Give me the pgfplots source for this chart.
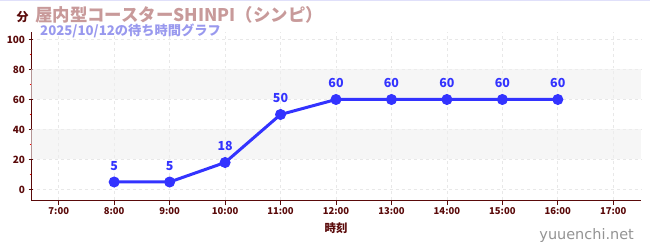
\documentclass[border=0pt]{standalone}
\usepackage{pgfplots}
\pgfplotsset{compat=1.18}
\usepackage{fontspec}
\setmainfont{Noto Sans CJK JP}
\newfontfamily\wm{DejaVu Sans}
\definecolor{axred}{HTML}{5A0A0A}
\definecolor{titlec}{HTML}{C89A9A}
\definecolor{subc}{HTML}{9999EE}
\definecolor{lineb}{HTML}{3333FF}
\definecolor{bandc}{HTML}{F0F0F0}
\definecolor{gridc}{HTML}{E8E8E8}
\begin{document}
\begin{tikzpicture}
\path[use as bounding box] (0,0) rectangle (650bp,250bp);
\draw[color=subc!30, line width=1bp] (0,249.5bp) -- (650bp,249.5bp);
\begin{axis}[
  at={(31bp,50bp)}, anchor=south west,
  scale only axis, width=610bp, height=168bp,
  xmin=6.5, xmax=17.5, ymin=-7, ymax=105,
  axis x line*=bottom, axis y line*=left,
  axis line style={color=axred, line width=1bp, -},
  xtick={7,...,17},
  xticklabels={7:00,8:00,9:00,10:00,11:00,12:00,13:00,14:00,15:00,16:00,17:00},
  ytick={0,20,40,60,80,100},
  minor ytick={10,30,50,70,90},
  tick style={color=axred, line width=0.8bp},
  major tick length=5bp, minor tick length=3bp,
  minor tick style={color=red, line width=0.8bp},
  xtick align=outside, ytick align=center,
  /pgf/number format/assume math mode=true,
  x tick label style={font=\fontsize{9.5}{10}\selectfont\bfseries, color=axred, yshift=1bp},
  y tick label style={font=\fontsize{10}{11}\selectfont\bfseries, color=axred},
  grid=major,
  major grid style={dashed, color=gridc, line width=0.7bp},
  xlabel={\fontsize{11.5}{12}\selectfont\bfseries 時刻},
  xlabel style={color=axred, yshift=-1bp},
  clip=false,
]
\addplot[fill=bandc, fill opacity=0.6, draw=none, forget plot] coordinates {(6.5,20) (17.5,20) (17.5,40) (6.5,40)} -- cycle;
\addplot[fill=bandc, fill opacity=0.6, draw=none, forget plot] coordinates {(6.5,60) (17.5,60) (17.5,80) (6.5,80)} -- cycle;
\addplot[color=lineb, line width=3bp, mark=*, mark size=5bp, mark options={fill=lineb, draw=lineb, line width=1bp, solid},
  nodes near coords={\pgfmathprintnumber[assume math mode=true]{\pgfplotspointmeta}},
  every node near coord/.append style={font=\fontsize{12.5}{13}\selectfont\bfseries, color=lineb, yshift=8bp}] coordinates {
(8,5) (9,5) (10,18) (11,50) (12,60) (13,60) (14,60) (15,60) (16,60)
};
\end{axis}
\node[anchor=base west, font=\fontsize{12}{13}\selectfont\bfseries, color=axred] at (13bp,228bp) {分};
\node[anchor=base west, font=\fontsize{17.5}{18}\selectfont\bfseries, color=titlec, inner sep=0pt] at (35bp,228bp) {屋内型コースターSHINPI（シンピ）};
\node[anchor=base west, font=\fontsize{13.3}{14}\selectfont\bfseries, color=subc, inner sep=0pt] at (40bp,214bp) {2025/10/12の待ち時間グラフ};
\node[anchor=base east, font=\fontsize{14.5}{15}\selectfont\wm, color=gray!85, inner sep=0pt] at (634bp,11bp) {yuuenchi.net};
\end{tikzpicture}
\end{document}
